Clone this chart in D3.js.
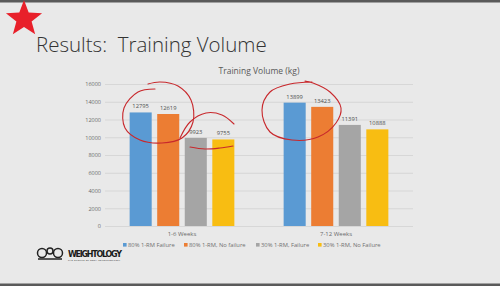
<!DOCTYPE html>
<html>
<head>
<meta charset="utf-8">
<script src="https://cdn.jsdelivr.net/npm/d3@7"></script>
<style>
  html, body { margin: 0; padding: 0; background: #e9e9e9; }
  svg { display: block; font-family: "Open Sans", "Liberation Sans", sans-serif; }
</style>
</head>
<body>
<svg id="chart" width="500" height="286"></svg>
<script>
const groups = ["1-6 Weeks", "7-12 Weeks"]
const series = ["80% 1-RM Failure", "80% 1-RM, No failure", "30% 1-RM, Failure", "30% 1-RM, No Failure"]
const values80Failure = [12795, 13899]
const values80NoFailure = [12619, 13423]
const values30Failure = [9923, 11391]
const values30NoFailure = [9755, 10888]
const yTicks = [0, 2000, 4000, 6000, 8000, 10000, 12000, 14000, 16000]
const colors = ["#5a9ad3", "#ec7d33", "#a5a5a5", "#f8bd12"]

const seriesValues = [values80Failure, values80NoFailure, values30Failure, values30NoFailure]
const svg = d3.select("#chart")

// slide frame
svg.append("rect").attr("width", 500).attr("height", 286).attr("fill", "#e9e9e9")
svg.append("rect").attr("width", 500).attr("height", 2.5).attr("fill", "#5a5a5a")
svg.append("rect").attr("y", 283.5).attr("width", 500).attr("height", 2.5).attr("fill", "#5a5a5a")

// red star
const star = d3.range(10).map((i) => {
  const a = -Math.PI / 2 + i * Math.PI / 5
  const r = i % 2 ? 8 : 19
  return [24 + r * Math.cos(a), 19 + r * Math.sin(a)]
})
svg.append("path").attr("d", d3.line()(star) + "Z").attr("fill", "#e8202a")

svg.append("text")
  .attr("x", 36).attr("y", 52)
  .attr("font-size", 20.5).attr("font-weight", 300)
  .attr("fill", "#333")
  .style("white-space", "pre")
  .text("Results:  Training Volume")

// chart
const margin = { left: 105, right: 87, top: 84, bottom: 60 }
const x0 = d3.scaleBand().domain(groups).range([margin.left, 500 - margin.right])
  .paddingInner(0.32).paddingOuter(0.16)
const x1 = d3.scaleBand().domain(series).range([0, x0.bandwidth()]).paddingInner(0.2)
const y = d3.scaleLinear().domain([0, 16000]).range([226, 84])

svg.append("text")
  .attr("x", 259).attr("y", 74)
  .attr("text-anchor", "middle")
  .attr("font-size", 8.5).attr("fill", "#595959")
  .text("Training Volume (kg)")

const yAxis = svg.append("g")
  .attr("transform", `translate(${margin.left},0)`)
  .call(d3.axisLeft(y).tickValues(yTicks).tickFormat(d3.format("d"))
    .tickSize(-(500 - margin.left - margin.right)).tickPadding(4))
yAxis.select(".domain").remove()
yAxis.selectAll("line").attr("stroke", "#d2d2d2").attr("stroke-width", 0.8)
yAxis.selectAll("text").attr("fill", "#6a6a6a").attr("font-size", 5.5).attr("font-family", "Open Sans, sans-serif")

const xAxis = svg.append("g")
  .attr("transform", "translate(0,226)")
  .call(d3.axisBottom(x0).tickSize(0).tickPadding(6))
xAxis.select(".domain").remove()
xAxis.selectAll("text").attr("fill", "#6a6a6a").attr("font-size", 6).attr("font-family", "Open Sans, sans-serif")

const rows = groups.map((g, gi) => series.map((s, si) => ({ group: g, key: s, value: seriesValues[si][gi], color: colors[si] })))

const groupG = svg.selectAll("g.group")
  .data(rows)
  .join("g")
  .attr("class", "group")
  .attr("transform", (d, i) => `translate(${x0(groups[i])},0)`)

groupG.selectAll("rect")
  .data((d) => d)
  .join("rect")
  .attr("x", (d) => x1(d.key))
  .attr("y", (d) => y(d.value))
  .attr("width", x1.bandwidth())
  .attr("height", (d) => y(0) - y(d.value))
  .attr("fill", (d) => d.color)

groupG.selectAll("text.lbl")
  .data((d) => d)
  .join("text")
  .attr("class", "lbl")
  .attr("x", (d) => x1(d.key) + x1.bandwidth() / 2)
  .attr("y", (d) => y(d.value) - 4)
  .attr("text-anchor", "middle")
  .attr("font-size", 5.8).attr("fill", "#505050")
  .text((d) => d.value)

// legend
const legendX = [123, 184, 256, 318]
const legend = svg.selectAll("g.legend")
  .data(series)
  .join("g")
  .attr("class", "legend")
  .attr("transform", (d, i) => `translate(${legendX[i]},247)`)
legend.append("rect").attr("x", 0).attr("y", -4).attr("width", 3.6).attr("height", 3.6)
  .attr("fill", (d, i) => colors[i])
legend.append("text").attr("x", 5).attr("y", 0)
  .attr("font-size", 5.8).attr("fill", "#707070")
  .text((d) => d)

// hand-drawn red annotations
const pen = svg.append("g").attr("fill", "none").attr("stroke", "#c8282c").attr("stroke-width", 1.1)
  .attr("stroke-linecap", "round")
const curve = d3.line().curve(d3.curveCatmullRom)
pen.append("path").attr("d", curve([[155, 89], [138, 92], [124, 108], [125, 128], [140, 140], [162, 143], [182, 138], [193, 122], [191, 100], [178, 86], [160, 82], [148, 84]]))
pen.append("path").attr("d", curve([[180, 138], [190, 122], [206, 113], [222, 115], [234, 124]]))
pen.append("path").attr("d", curve([[190, 147], [205, 149], [220, 148], [233, 146]]))
pen.append("path").attr("d", curve([[312, 82], [290, 84], [270, 92], [262, 110], [270, 132], [292, 140], [318, 137], [336, 123], [341, 108], [330, 92], [313, 83], [305, 81]]))

// logo
const logo = svg.append("g").attr("transform", "translate(36,249)")
logo.append("circle").attr("cx", 6).attr("cy", 4).attr("r", 4.5).attr("fill", "none").attr("stroke", "#222").attr("stroke-width", 1.5)
logo.append("circle").attr("cx", 14).attr("cy", 2).attr("r", 3).attr("fill", "none").attr("stroke", "#222").attr("stroke-width", 1.5)
logo.append("circle").attr("cx", 22).attr("cy", 4).attr("r", 4.5).attr("fill", "none").attr("stroke", "#222").attr("stroke-width", 1.5)
logo.append("path").attr("d", "M2,10 L26,10").attr("stroke", "#222").attr("stroke-width", 1.5)
svg.append("text").attr("x", 68).attr("y", 257)
  .attr("font-size", 8).attr("font-weight", 700).attr("fill", "#1a1a1a")
  .attr("font-family", "DejaVu Sans, sans-serif").attr("textLength", 54)
  .text("WEIGHTOLOGY")
svg.append("text").attr("x", 68).attr("y", 261)
  .attr("font-size", 2.4).attr("fill", "#333").attr("textLength", 52)
  .text("THE SCIENCE OF BODY RECOMPOSITION")
</script>
</body>
</html>
